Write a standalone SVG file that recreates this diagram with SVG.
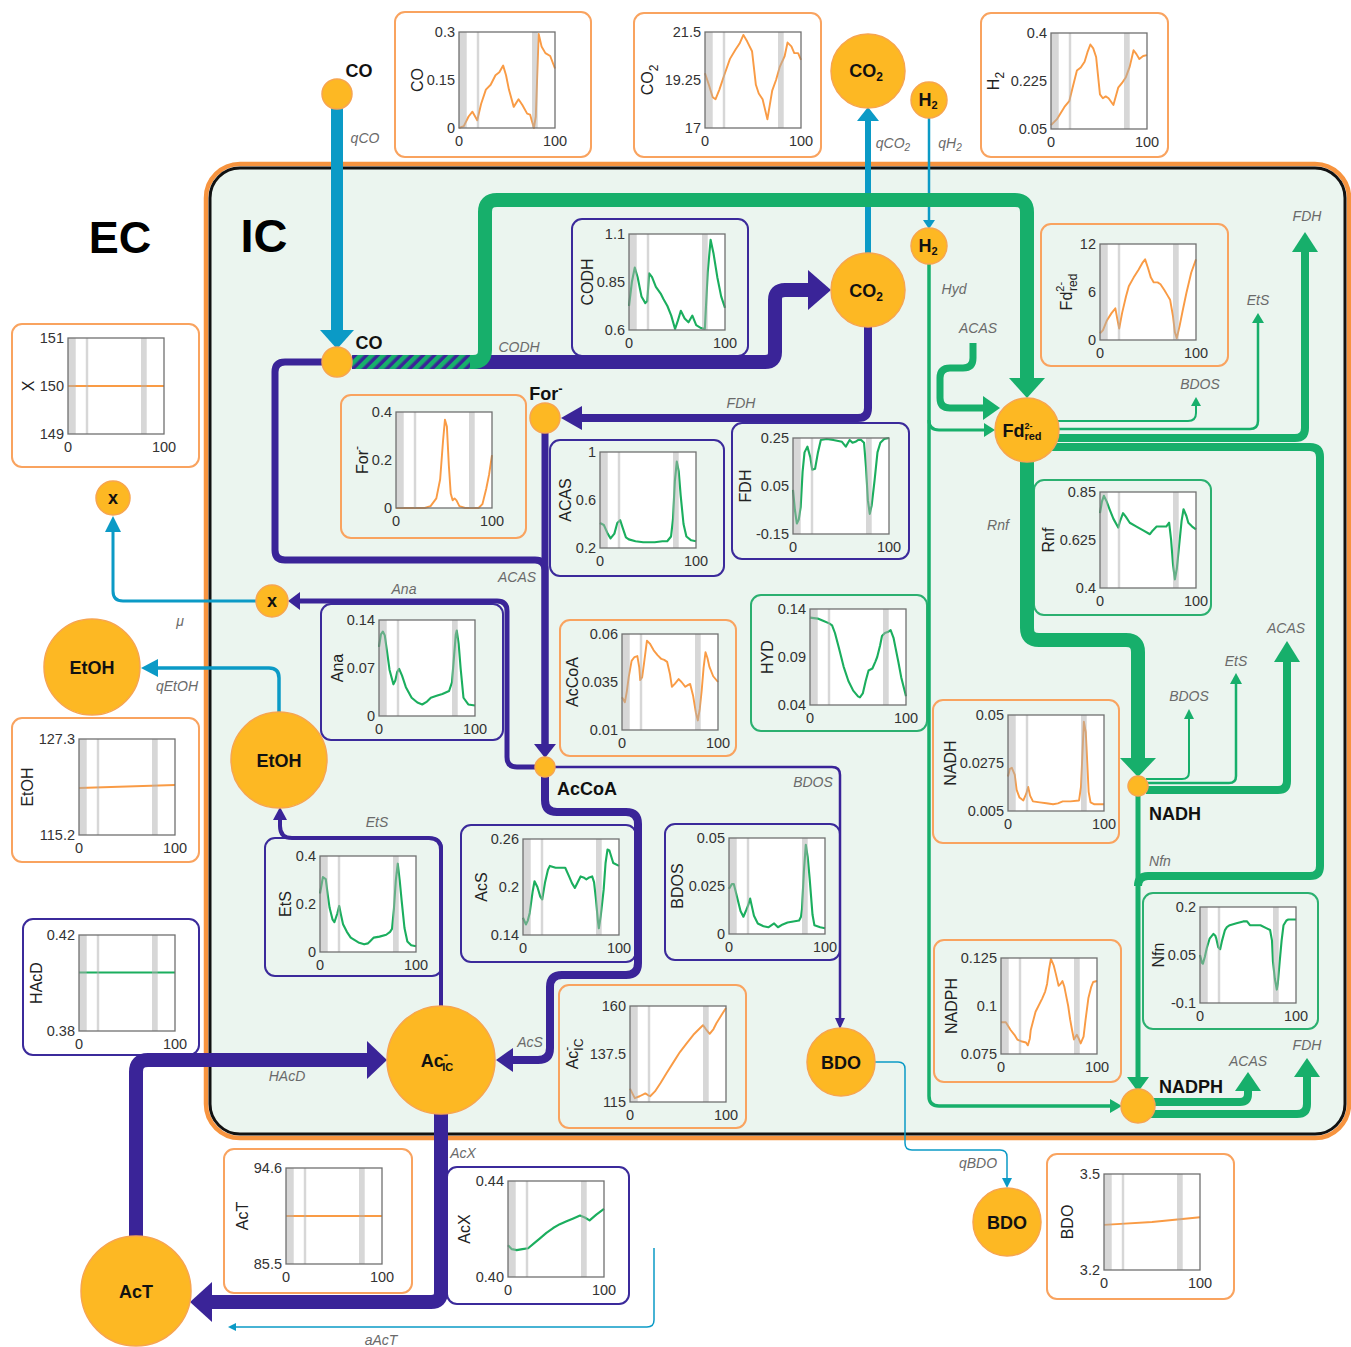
<svg xmlns="http://www.w3.org/2000/svg" xmlns:xlink="http://www.w3.org/1999/xlink" width="1351" height="1347" viewBox="0 0 1351 1347">
<style>
text{font-family:"Liberation Sans",Arial,sans-serif}
.pO{fill:none;stroke:#F9A35F;stroke-width:2}
.pP{fill:none;stroke:#3B2A9B;stroke-width:2}
.pG{fill:none;stroke:#2BB070;stroke-width:2}
.cO{fill:none;stroke:#F99B45;stroke-width:2;stroke-linejoin:round}
.cG{fill:none;stroke:#1BAE5E;stroke-width:2.2;stroke-linejoin:round}
.tk{font-size:14.5px;fill:#333;text-anchor:end}
.tx{font-size:14.5px;fill:#333;text-anchor:middle}
.ti{font-size:16px;fill:#222;text-anchor:middle}
.lb{font-size:14px;font-style:italic;fill:#6a6a6a;text-anchor:middle}
.nd{fill:#FDB823;stroke:#F7A54F;stroke-width:1.5}
.nt{font-size:18px;font-weight:bold;fill:#111;text-anchor:middle}
.bl{fill:none;stroke:#0B9AC6;stroke-linejoin:round}
.pu{fill:none;stroke:#3A2498;stroke-linejoin:round}
.gr{fill:none;stroke:#17AF6B;stroke-linejoin:round}
.ab{fill:#0B9AC6}.ap{fill:#3A2498}.ag{fill:#17AF6B}
</style>
<defs>
<rect id="bg" width="96" height="96" fill="#fff"/>
<g id="fr"><g fill="#b0b0b0" opacity=".5"><rect width="7.7" height="96"/><rect x="17.8" width="2.4" height="96"/><rect x="73" width="5.7" height="96"/></g><rect width="96" height="96" fill="none" stroke="#707070" stroke-width="1.3"/></g>
<pattern id="hatch" width="8" height="8" patternUnits="userSpaceOnUse" patternTransform="rotate(45)"><rect width="8" height="8" fill="#3A2498"/><rect width="4.5" height="8" fill="#17AF6B"/></pattern>
</defs>
<rect width="1351" height="1347" fill="#fff"/>
<g id="ic-box">
<rect x="206" y="164" width="1143" height="974" rx="34" fill="none" stroke="#F7943F" stroke-width="4.5"/>
<rect x="210" y="168" width="1135" height="966" rx="30" fill="#EBF5EF" stroke="#111" stroke-width="3"/>
</g>
<text x="120" y="253" font-size="45" font-weight="bold" text-anchor="middle" fill="#000">EC</text>
<text x="264" y="252" font-size="47" font-weight="bold" text-anchor="middle" fill="#000">IC</text>

<g id="chart-co" transform="translate(459,32)"><rect class="pO" x="-64" y="-20" width="196" height="145" rx="10"/><use href="#bg"/><path class="cO" transform="scale(.96)" d="M0,100 5,98 10,88 14,83 19,92 23,75 28,60 33,55 38,45 42,42 46,35 49,45 52,60 57,78 62,70 66,76 71,85 74,86 78,100 80,88 83,2 86,15 90,22 95,25 100,38"/><use href="#fr"/><text class="tk" x="-4" y="5">0.3</text><text class="tk" x="-4" y="53">0.15</text><text class="tk" x="-4" y="101">0</text><text class="tx" x="0" y="114">0</text><text class="tx" x="96" y="114">100</text><text class="ti" transform="translate(-36,48) rotate(-90)">CO</text></g>

<g id="chart-co2" transform="translate(705,32)"><rect class="pO" x="-71" y="-19" width="187" height="144" rx="10"/><use href="#bg"/><path class="cO" transform="scale(.96)" d="M0,43 4,55 8,68 11,70 15,60 20,45 26,28 32,18 36,12 40,3 44,10 49,20 53,55 56,64 60,70 65,91 70,61 74,50 78,36 83,25 86,11 90,15 93,22 97,22 100,29"/><use href="#fr"/><text class="tk" x="-4" y="5">21.5</text><text class="tk" x="-4" y="53">19.25</text><text class="tk" x="-4" y="101">17</text><text class="tx" x="0" y="114">0</text><text class="tx" x="96" y="114">100</text><text class="ti" transform="translate(-52,48) rotate(-90)">CO<tspan dy="5" font-size="12">2</tspan></text></g>

<g id="chart-h2" transform="translate(1051,33)"><rect class="pO" x="-70" y="-20" width="187" height="144" rx="10"/><use href="#bg"/><path class="cO" transform="scale(.96)" d="M0,96 6,90 14,77 19,71 23,55 27,39 31,36 35,30 38,20 41,12 44,16 47,25 51,64 54,68 57,66 60,68 65,75 70,57 74,52 78,46 82,35 86,18 89,22 92,27 96,24 100,23"/><use href="#fr"/><text class="tk" x="-4" y="5">0.4</text><text class="tk" x="-4" y="53">0.225</text><text class="tk" x="-4" y="101">0.05</text><text class="tx" x="0" y="114">0</text><text class="tx" x="96" y="114">100</text><text class="ti" transform="translate(-52,48) rotate(-90)">H<tspan dy="5" font-size="12">2</tspan></text></g>

<g id="chart-x" transform="translate(68,338)"><rect class="pO" x="-56" y="-14" width="187" height="143" rx="10"/><use href="#bg"/><path class="cO" transform="scale(.96)" d="M0,50 100,50"/><use href="#fr"/><text class="tk" x="-4" y="5">151</text><text class="tk" x="-4" y="53">150</text><text class="tk" x="-4" y="101">149</text><text class="tx" x="0" y="114">0</text><text class="tx" x="96" y="114">100</text><text class="ti" transform="translate(-34,48) rotate(-90)">X</text></g>

<g id="chart-codh" transform="translate(629,234)"><rect class="pP" x="-57" y="-15" width="176" height="137" rx="10"/><use href="#bg"/><path class="cG" transform="scale(.96)" d="M0,75 3,50 6,35 9,45 13,65 17,72 19,70 21,41 24,45 28,55 33,62 36,68 40,75 44,85 48,99 51,90 54,80 58,88 62,92 66,85 70,95 75,98 79,99 82,40 85,6 88,20 92,45 96,65 100,77"/><use href="#fr"/><text class="tk" x="-4" y="5">1.1</text><text class="tk" x="-4" y="53">0.85</text><text class="tk" x="-4" y="101">0.6</text><text class="tx" x="0" y="114">0</text><text class="tx" x="96" y="114">100</text><text class="ti" transform="translate(-36,48) rotate(-90)">CODH</text></g>

<g id="chart-fd" transform="translate(1100,244)"><rect class="pO" x="-59" y="-20" width="187" height="142" rx="10"/><use href="#bg"/><path class="cO" transform="scale(.96)" d="M0,93 3,90 7,80 12,72 16,67 18,78 20,88 23,72 27,55 30,44 35,35 40,27 44,20 47,16 50,25 53,35 56,40 60,40 63,42 67,48 70,53 73,58 76,75 78,92 80,98 83,85 86,70 90,51 95,30 100,16"/><use href="#fr"/><text class="tk" x="-4" y="5">12</text><text class="tk" x="-4" y="53">6</text><text class="tk" x="-4" y="101">0</text><text class="tx" x="0" y="114">0</text><text class="tx" x="96" y="114">100</text><text class="ti" transform="translate(-28,48) rotate(-90)">Fd<tspan dy="-8" font-size="11">2-</tspan><tspan dx="-9" dy="13" font-size="12">red</tspan></text></g>

<g id="chart-for" transform="translate(396,412)"><rect class="pO" x="-55" y="-17" width="185" height="143" rx="10"/><use href="#bg"/><path class="cO" transform="scale(.96)" d="M0,100 30,100 36,98 42,90 46,70 49,30 51,8 53,15 55,55 57,85 59,92 61,90 63,92 66,98 72,100 86,100 90,96 94,80 97,65 100,45"/><use href="#fr"/><text class="tk" x="-4" y="5">0.4</text><text class="tk" x="-4" y="53">0.2</text><text class="tk" x="-4" y="101">0</text><text class="tx" x="0" y="114">0</text><text class="tx" x="96" y="114">100</text><text class="ti" transform="translate(-28,48) rotate(-90)">For<tspan dy="-7" font-size="12">-</tspan></text></g>

<g id="chart-acas" transform="translate(600,452)"><rect class="pP" x="-50" y="-12" width="174" height="136" rx="10"/><use href="#bg"/><path class="cG" transform="scale(.96)" d="M0,74 4,76 8,85 11,90 15,85 18,74 21,71 24,80 27,89 30,91 37,93 45,94 57,94 65,93 70,93 74,88 76,70 78,30 80,10 82,20 84,45 87,75 90,88 95,92 100,93"/><use href="#fr"/><text class="tk" x="-4" y="5">1</text><text class="tk" x="-4" y="53">0.6</text><text class="tk" x="-4" y="101">0.2</text><text class="tx" x="0" y="114">0</text><text class="tx" x="96" y="114">100</text><text class="ti" transform="translate(-29,48) rotate(-90)">ACAS</text></g>

<g id="chart-fdh" transform="translate(793,438)"><rect class="pP" x="-61" y="-15" width="177" height="136" rx="10"/><use href="#bg"/><path class="cG" transform="scale(.96)" d="M0,54 2,75 4,89 6,85 8,72 10,35 12,15 15,9 18,20 20,33 23,32 26,15 29,2 35,1 42,2 51,4 55,9 59,2 62,5 65,4 68,2 71,2 74,5 76,30 78,65 80,79 82,70 85,44 88,15 91,5 95,1 100,0"/><use href="#fr"/><text class="tk" x="-4" y="5">0.25</text><text class="tk" x="-4" y="53">0.05</text><text class="tk" x="-4" y="101">-0.15</text><text class="tx" x="0" y="114">0</text><text class="tx" x="96" y="114">100</text><text class="ti" transform="translate(-42,48) rotate(-90)">FDH</text></g>

<g id="chart-rnf" transform="translate(1100,492)"><rect class="pG" x="-66" y="-12" width="177" height="135" rx="10"/><use href="#bg"/><path class="cG" transform="scale(.96)" d="M0,22 2,10 4,4 7,10 10,18 14,28 19,37 21,30 24,22 27,26 31,32 38,36 45,40 52,44 55,40 59,36 65,36 69,36 72,32 74,49 76,75 78,91 80,80 82,60 85,30 87,18 90,25 92,32 96,36 100,39"/><use href="#fr"/><text class="tk" x="-4" y="5">0.85</text><text class="tk" x="-4" y="53">0.625</text><text class="tk" x="-4" y="101">0.4</text><text class="tx" x="0" y="114">0</text><text class="tx" x="96" y="114">100</text><text class="ti" transform="translate(-46,48) rotate(-90)">Rnf</text></g>

<g id="chart-ana" transform="translate(379,620)"><rect class="pP" x="-58" y="-16" width="182" height="136" rx="10"/><use href="#bg"/><path class="cG" transform="scale(.96)" d="M0,28 2,15 4,12 6,16 8,30 11,52 15,67 17,63 19,54 21,51 24,58 28,70 34,81 40,86 45,88 50,85 54,81 60,79 66,77 73,74 76,65 78,40 80,15 81,11 83,25 85,50 88,81 93,88 100,89"/><use href="#fr"/><text class="tk" x="-4" y="5">0.14</text><text class="tk" x="-4" y="53">0.07</text><text class="tk" x="-4" y="101">0</text><text class="tx" x="0" y="114">0</text><text class="tx" x="96" y="114">100</text><text class="ti" transform="translate(-36,48) rotate(-90)">Ana</text></g>

<g id="chart-accoa" transform="translate(622,634)"><rect class="pO" x="-62" y="-14" width="176" height="136" rx="10"/><use href="#bg"/><path class="cO" transform="scale(.96)" d="M0,66 3,71 5,60 7,45 10,28 13,24 16,23 18,35 19,48 21,45 23,30 26,7 29,10 33,17 37,22 41,26 44,27 47,29 50,42 52,55 55,52 59,47 62,50 66,55 69,53 71,52 74,64 77,82 79,90 81,78 83,59 85,35 87,19 89,25 91,34 95,44 100,50"/><use href="#fr"/><text class="tk" x="-4" y="5">0.06</text><text class="tk" x="-4" y="53">0.035</text><text class="tk" x="-4" y="101">0.01</text><text class="tx" x="0" y="114">0</text><text class="tx" x="96" y="114">100</text><text class="ti" transform="translate(-44,48) rotate(-90)">AcCoA</text></g>

<g id="chart-hyd" transform="translate(810,609)"><rect class="pG" x="-59" y="-14" width="176" height="136" rx="10"/><use href="#bg"/><path class="cG" transform="scale(.96)" d="M0,9 8,10 13,12 20,15 23,17 26,25 30,40 35,60 40,75 45,85 50,91 52,92 55,88 58,75 61,64 65,62 68,55 70,50 73,38 75,28 78,25 81,24 84,22 87,30 89,40 92,55 95,71 100,91"/><use href="#fr"/><text class="tk" x="-4" y="5">0.14</text><text class="tk" x="-4" y="53">0.09</text><text class="tk" x="-4" y="101">0.04</text><text class="tx" x="0" y="114">0</text><text class="tx" x="96" y="114">100</text><text class="ti" transform="translate(-37,48) rotate(-90)">HYD</text></g>

<g id="chart-etoh" transform="translate(79,739)"><rect class="pO" x="-67" y="-21" width="187" height="144" rx="10"/><use href="#bg"/><path class="cO" transform="scale(.96)" d="M0,51 100,48"/><use href="#fr"/><text class="tk" x="-4" y="5">127.3</text><text class="tk" x="-4" y="101">115.2</text><text class="tx" x="0" y="114">0</text><text class="tx" x="96" y="114">100</text><text class="ti" transform="translate(-46,48) rotate(-90)">EtOH</text></g>

<g id="chart-nadh" transform="translate(1008,715)"><rect class="pO" x="-75" y="-15" width="186" height="143" rx="10"/><use href="#bg"/><path class="cO" transform="scale(.96)" d="M0,64 2,56 4,55 7,62 9,78 12,86 16,89 19,82 21,75 23,84 26,90 33,91 40,92 47,93 52,92 57,90 65,90 74,89 76,75 78,30 79,7 81,18 82,38 84,80 86,91 90,93 100,93"/><use href="#fr"/><text class="tk" x="-4" y="5">0.05</text><text class="tk" x="-4" y="53">0.0275</text><text class="tk" x="-4" y="101">0.005</text><text class="tx" x="0" y="114">0</text><text class="tx" x="96" y="114">100</text><text class="ti" transform="translate(-52,48) rotate(-90)">NADH</text></g>

<g id="chart-ets" transform="translate(320,856)"><rect class="pP" x="-55" y="-18" width="177" height="138" rx="10"/><use href="#bg"/><path class="cG" transform="scale(.96)" d="M0,39 2,28 3,22 6,24 8,40 10,54 13,66 15,69 18,60 20,52 22,62 24,71 28,79 32,85 40,90 46,92 50,91 52,89 56,85 62,84 69,82 73,79 75,76 77,55 79,25 81,8 83,25 85,46 88,75 91,89 95,93 100,94"/><use href="#fr"/><text class="tk" x="-4" y="5">0.4</text><text class="tk" x="-4" y="53">0.2</text><text class="tk" x="-4" y="101">0</text><text class="tx" x="0" y="114">0</text><text class="tx" x="96" y="114">100</text><text class="ti" transform="translate(-29,48) rotate(-90)">EtS</text></g>

<g id="chart-acs" transform="translate(523,839)"><rect class="pP" x="-62" y="-14" width="175" height="137" rx="10"/><use href="#bg"/><path class="cG" transform="scale(.96)" d="M0,82 3,89 5,85 7,77 10,55 12,44 15,50 18,60 20,63 23,45 26,32 28,28 34,30 44,30 48,39 51,46 54,51 57,45 60,39 63,40 66,42 69,40 72,39 74,45 76,63 78,85 79,93 81,80 84,53 86,25 88,11 90,12 94,25 100,28"/><use href="#fr"/><text class="tk" x="-4" y="5">0.26</text><text class="tk" x="-4" y="53">0.2</text><text class="tk" x="-4" y="101">0.14</text><text class="tx" x="0" y="114">0</text><text class="tx" x="96" y="114">100</text><text class="ti" transform="translate(-36,48) rotate(-90)">AcS</text></g>

<g id="chart-bdos" transform="translate(729,838)"><rect class="pP" x="-64" y="-14" width="175" height="136" rx="10"/><use href="#bg"/><path class="cG" transform="scale(.96)" d="M0,53 3,48 5,48 8,60 12,76 15,82 18,75 20,70 22,63 24,72 26,81 30,89 36,92 41,93 44,91 47,89 51,93 56,90 61,88 67,87 73,86 75,82 76,74 78,35 80,7 82,20 84,42 87,80 89,91 95,93 100,94"/><use href="#fr"/><text class="tk" x="-4" y="5">0.05</text><text class="tk" x="-4" y="53">0.025</text><text class="tk" x="-4" y="101">0</text><text class="tx" x="0" y="114">0</text><text class="tx" x="96" y="114">100</text><text class="ti" transform="translate(-46,48) rotate(-90)">BDOS</text></g>

<g id="chart-hacd" transform="translate(79,935)"><rect class="pP" x="-56" y="-16" width="176" height="136" rx="10"/><use href="#bg"/><path class="cG" transform="scale(.96)" d="M0,39 100,39"/><use href="#fr"/><text class="tk" x="-4" y="5">0.42</text><text class="tk" x="-4" y="101">0.38</text><text class="tx" x="0" y="114">0</text><text class="tx" x="96" y="114">100</text><text class="ti" transform="translate(-37,48) rotate(-90)">HAcD</text></g>

<g id="chart-nfn" transform="translate(1200,907)"><rect class="pG" x="-57" y="-14" width="175" height="136" rx="10"/><use href="#bg"/><path class="cG" transform="scale(.96)" d="M0,50 2,58 3,59 5,52 7,43 10,33 14,28 16,30 17,33 19,42 21,44 23,35 26,24 28,21 31,19 38,17 45,15 49,15 52,19 58,19 63,19 69,22 73,24 75,35 76,57 78,75 80,86 81,80 83,57 85,35 87,19 90,14 92,13 100,13"/><use href="#fr"/><text class="tk" x="-4" y="5">0.2</text><text class="tk" x="-4" y="53">0.05</text><text class="tk" x="-4" y="101">-0.1</text><text class="tx" x="0" y="114">0</text><text class="tx" x="96" y="114">100</text><text class="ti" transform="translate(-36,48) rotate(-90)">Nfn</text></g>

<g id="chart-nadph" transform="translate(1001,958)"><rect class="pO" x="-67" y="-18" width="187" height="142" rx="10"/><use href="#bg"/><path class="cO" transform="scale(.96)" d="M0,67 5,67 10,75 14,80 17,85 22,87 26,88 28,91 30,84 31,75 36,56 43,42 46,35 48,27 50,12 52,1 55,8 57,16 60,29 62,27 64,24 66,30 67,35 70,50 72,64 74,75 76,85 79,80 81,84 83,89 86,82 88,65 91,42 94,30 96,25 100,24"/><use href="#fr"/><text class="tk" x="-4" y="5">0.125</text><text class="tk" x="-4" y="53">0.1</text><text class="tk" x="-4" y="101">0.075</text><text class="tx" x="0" y="114">0</text><text class="tx" x="96" y="114">100</text><text class="ti" transform="translate(-44,48) rotate(-90)">NADPH</text></g>

<g id="chart-acic" transform="translate(630,1006)"><rect class="pO" x="-71" y="-21" width="187" height="143" rx="10"/><use href="#bg"/><path class="cO" transform="scale(.96)" d="M0,86 3,92 5,96 10,94 16,91 19,93 21,94 26,89 32,80 38,70 45,59 52,48 59,39 66,30 72,24 76,20 79,24 83,29 87,24 90,18 95,10 100,2"/><use href="#fr"/><text class="tk" x="-4" y="5">160</text><text class="tk" x="-4" y="53">137.5</text><text class="tk" x="-4" y="101">115</text><text class="tx" x="0" y="114">0</text><text class="tx" x="96" y="114">100</text><text class="ti" transform="translate(-52,48) rotate(-90)">Ac<tspan dy="-7" font-size="12">-</tspan><tspan dx="-4" dy="12" font-size="12">IC</tspan></text></g>

<g id="chart-act" transform="translate(286,1168)"><rect class="pO" x="-62" y="-19" width="188" height="144" rx="10"/><use href="#bg"/><path class="cO" transform="scale(.96)" d="M0,50 100,50"/><use href="#fr"/><text class="tk" x="-4" y="5">94.6</text><text class="tk" x="-4" y="101">85.5</text><text class="tx" x="0" y="114">0</text><text class="tx" x="96" y="114">100</text><text class="ti" transform="translate(-38,48) rotate(-90)">AcT</text></g>

<g id="chart-acx" transform="translate(508,1181)"><rect class="pP" x="-61" y="-14" width="182" height="137" rx="10"/><use href="#bg"/><path class="cG" transform="scale(.96)" d="M0,67 4,71 9,72 15,71 21,70 27,65 33,60 40,54 47,49 54,45 61,42 68,39 75,36 80,38 85,41 92,35 100,29"/><use href="#fr"/><text class="tk" x="-4" y="5">0.44</text><text class="tk" x="-4" y="101">0.40</text><text class="tx" x="0" y="114">0</text><text class="tx" x="96" y="114">100</text><text class="ti" transform="translate(-38,48) rotate(-90)">AcX</text></g>

<g id="chart-bdo" transform="translate(1104,1174)"><rect class="pO" x="-57" y="-20" width="187" height="145" rx="10"/><use href="#bg"/><path class="cO" transform="scale(.96)" d="M0,53 50,50 100,45"/><use href="#fr"/><text class="tk" x="-4" y="5">3.5</text><text class="tk" x="-4" y="101">3.2</text><text class="tx" x="0" y="114">0</text><text class="tx" x="96" y="114">100</text><text class="ti" transform="translate(-31,48) rotate(-90)">BDO</text></g>

<g id="connectors">
<path class="bl" stroke-width="12" d="M337 108 V332"/><polygon class="ab" points="320,330 354,330 337,349"/>
<path class="bl" stroke-width="6" d="M868 254 V118"/><polygon class="ab" points="857,121 879,121 868,107"/>
<path class="bl" stroke-width="2.5" d="M929 118 V222"/><polygon class="ab" points="923,220 935,220 929,229"/>
<path class="bl" stroke-width="3" d="M256 601 H123 Q113 601 113 591 V530"/><polygon class="ab" points="105,532 121,532 113,516"/>
<path class="bl" stroke-width="3.5" d="M279 712 V678 Q279 668 269 668 H156"/><polygon class="ab" points="158,659 158,677 141,668"/>
<path class="bl" stroke-width="1.5" d="M875 1062 H898 Q905 1062 905 1069 V1143 Q905 1150 912 1150 H1000 Q1007 1150 1007 1157 V1180"/><polygon class="ab" points="1002,1178 1012,1178 1007,1188"/>
<path class="bl" stroke-width="1.5" d="M654 1248 V1320 Q654 1327 647 1327 H235"/><polygon class="ab" points="236,1323 236,1331 228,1327"/>
<path class="pu" stroke-width="14" d="M352 362 H765 Q775 362 775 352 V300 Q775 290 785 290 H810"/><polygon class="ap" points="808,270 808,310 831,290"/>
<rect x="352" y="355" width="128" height="14" fill="url(#hatch)"/>
<path class="pu" stroke-width="7" d="M322 362 H285 Q275 362 275 372 V550 Q275 560 285 560 H535 Q545 560 545 570 V746"/>
<path class="pu" stroke-width="7" d="M545 433 V746"/><polygon class="ap" points="534,744 556,744 545,758"/>
<path class="pu" stroke-width="8" d="M868 327 V408 Q868 418 858 418 H580"/><polygon class="ap" points="582,406 582,430 561,418"/>
<path class="pu" stroke-width="5" d="M535 767 H517 Q507 767 507 757 V611 Q507 601 497 601 H298"/><polygon class="ap" points="300,592 300,610 288,601"/>
<path class="pu" stroke-width="8" d="M545 777 V800 Q545 812 557 812 H626 Q638 812 638 824 V963 Q638 975 626 975 H562 Q550 975 550 987 V1048 Q550 1060 538 1060 H510"/><polygon class="ap" points="513,1048 513,1072 496,1060"/>
<path class="pu" stroke-width="2.5" d="M555 767 H832 Q840 767 840 775 V1020"/><polygon class="ap" points="835,1018 845,1018 840,1029"/>
<path class="pu" stroke-width="4" d="M441 1006 V850 Q441 838 429 838 H292 Q280 838 280 826 V818"/><polygon class="ap" points="273,820 287,820 280,807"/>
<path class="pu" stroke-width="14" d="M136 1236 V1072 Q136 1060 148 1060 H370"/><polygon class="ap" points="367,1041 367,1079 387,1060"/>
<path class="pu" stroke-width="14" d="M441 1114 V1292 Q441 1302 431 1302 H210"/><polygon class="ap" points="212,1282 212,1322 190,1302"/>
<path class="gr" stroke-width="14" d="M470 362 H473 Q485 362 485 350 V212 Q485 200 497 200 H1015 Q1027 200 1027 212 V380"/><polygon class="ag" points="1009,378 1045,378 1027,398"/>
<path class="gr" stroke-width="3.5" d="M929 264 V1096 Q929 1106 939 1106 H1110"/><polygon class="ag" points="1110,1099 1110,1113 1122,1106"/>
<path class="gr" stroke-width="3" d="M929 420 Q929 430 939 430 H985"/><polygon class="ag" points="984,423 984,437 995,430"/>
<path class="gr" stroke-width="7" d="M973 343 V358 Q973 368 963 368 H950 Q940 368 940 378 V398 Q940 408 950 408 H985"/><polygon class="ag" points="983,396 983,420 1000,408"/>
<path class="gr" stroke-width="2" d="M1058 421 H1188 Q1196 421 1196 413 V405"/><polygon class="ag" points="1191,406 1201,406 1196,397"/>
<path class="gr" stroke-width="2.5" d="M1058 429 H1250 Q1258 429 1258 421 V322"/><polygon class="ag" points="1252,323 1264,323 1258,313"/>
<path class="gr" stroke-width="8" d="M1056 438 H1295 Q1305 438 1305 428 V250"/><polygon class="ag" points="1292,252 1318,252 1305,232"/>
<path class="gr" stroke-width="8" d="M1050 447 H1310 Q1320 447 1320 457 V866 Q1320 876 1310 876 H1148 Q1138 876 1138 886"/>
<path class="gr" stroke-width="14" d="M1027 462 V628 Q1027 640 1039 640 H1126 Q1138 640 1138 652 V760"/><polygon class="ag" points="1120,758 1156,758 1138,777"/>
<path class="gr" stroke-width="2" d="M1146 779 H1182 Q1189 779 1189 772 V718"/><polygon class="ag" points="1184,719 1194,719 1189,709"/>
<path class="gr" stroke-width="2.5" d="M1146 783 H1229 Q1236 783 1236 776 V683"/><polygon class="ag" points="1230,684 1242,684 1236,673"/>
<path class="gr" stroke-width="8" d="M1146 790 H1278 Q1287 790 1287 781 V660"/><polygon class="ag" points="1274,662 1300,662 1287,641"/>
<path class="gr" stroke-width="5" d="M1138 796 V1080"/><polygon class="ag" points="1127,1077 1149,1077 1138,1092"/>
<path class="gr" stroke-width="8" d="M1150 1102 H1240 Q1248 1102 1248 1094 V1088"/><polygon class="ag" points="1235,1091 1261,1091 1248,1072"/>
<path class="gr" stroke-width="8" d="M1150 1114 H1297 Q1307 1114 1307 1104 V1075"/><polygon class="ag" points="1294,1077 1320,1077 1307,1058"/>
<text class="lb" x="365" y="143">qCO</text>
<text class="lb" x="519" y="352">CODH</text>
<text class="lb" x="741" y="408">FDH</text>
<text class="lb" x="517" y="582">ACAS</text>
<text class="lb" x="404" y="594">Ana</text>
<text class="lb" x="180" y="626">μ</text>
<text class="lb" x="177" y="691">qEtOH</text>
<text class="lb" x="377" y="827">EtS</text>
<text class="lb" x="813" y="787">BDOS</text>
<text class="lb" x="530" y="1047">AcS</text>
<text class="lb" x="287" y="1081">HAcD</text>
<text class="lb" x="463" y="1158">AcX</text>
<text class="lb" x="381" y="1345">aAcT</text>
<text class="lb" x="978" y="1168">qBDO</text>
<text class="lb" x="893" y="148">qCO<tspan dy="3" font-size="10">2</tspan></text>
<text class="lb" x="950" y="148">qH<tspan dy="3" font-size="10">2</tspan></text>
<text class="lb" x="954" y="294">Hyd</text>
<text class="lb" x="978" y="333">ACAS</text>
<text class="lb" x="998" y="530">Rnf</text>
<text class="lb" x="1307" y="221">FDH</text>
<text class="lb" x="1258" y="305">EtS</text>
<text class="lb" x="1200" y="389">BDOS</text>
<text class="lb" x="1286" y="633">ACAS</text>
<text class="lb" x="1236" y="666">EtS</text>
<text class="lb" x="1189" y="701">BDOS</text>
<text class="lb" x="1160" y="866">Nfn</text>
<text class="lb" x="1248" y="1066">ACAS</text>
<text class="lb" x="1307" y="1050">FDH</text>
</g>

<g id="node-co-ext"><circle class="nd" cx="337" cy="94" r="15"/><text class="nt" x="359" y="77">CO</text></g>
<g id="node-co2-ext"><circle class="nd" cx="868" cy="71" r="37"/><text class="nt" x="866" y="77">CO<tspan dy="4" font-size="12">2</tspan></text></g>
<g id="node-h2-ext"><circle class="nd" cx="929" cy="100" r="18"/><text class="nt" x="928" y="106" font-size="16">H<tspan dy="3" font-size="11">2</tspan></text></g>
<g id="node-h2-int"><circle class="nd" cx="929" cy="246" r="18"/><text class="nt" x="928" y="252" font-size="16">H<tspan dy="3" font-size="11">2</tspan></text></g>
<g id="node-co2-int"><circle class="nd" cx="868" cy="290" r="37"/><text class="nt" x="866" y="297">CO<tspan dy="4" font-size="12">2</tspan></text></g>
<g id="node-co-int"><circle class="nd" cx="337" cy="362" r="15"/><text class="nt" x="369" y="349">CO</text></g>
<g id="node-for"><circle class="nd" cx="545" cy="418" r="15"/><text class="nt" x="546" y="400">For<tspan dy="-7" font-size="13">-</tspan></text></g>
<g id="node-fd"><circle class="nd" cx="1027" cy="430" r="32"/><text class="nt" x="1022" y="437">Fd<tspan dy="-8" font-size="9">2-</tspan><tspan dx="-8" dy="11" font-size="11">red</tspan></text></g>
<g id="node-x-int"><circle class="nd" cx="272" cy="601" r="16"/><text class="nt" x="272" y="607" font-size="16">x</text></g>
<g id="node-x-ext"><circle class="nd" cx="113" cy="498" r="17"/><text class="nt" x="113" y="504" font-size="16">x</text></g>
<g id="node-etoh-ext"><circle class="nd" cx="92" cy="667" r="48"/><text class="nt" x="92" y="674">EtOH</text></g>
<g id="node-etoh-int"><circle class="nd" cx="279" cy="760" r="48"/><text class="nt" x="279" y="767">EtOH</text></g>
<g id="node-accoa"><circle class="nd" cx="545" cy="767" r="10"/><text class="nt" x="587" y="795">AcCoA</text></g>
<g id="node-nadh"><circle class="nd" cx="1138" cy="786" r="10"/><text class="nt" x="1175" y="820">NADH</text></g>
<g id="node-nadph"><circle class="nd" cx="1138" cy="1106" r="17"/><text class="nt" x="1191" y="1093">NADPH</text></g>
<g id="node-acic"><circle class="nd" cx="441" cy="1060" r="54"/><text class="nt" x="437" y="1067">Ac<tspan dy="-8" font-size="13">-</tspan><tspan dx="-6" dy="12" font-size="11">IC</tspan></text></g>
<g id="node-bdo-int"><circle class="nd" cx="841" cy="1062" r="34"/><text class="nt" x="841" y="1069">BDO</text></g>
<g id="node-bdo-ext"><circle class="nd" cx="1007" cy="1222" r="34"/><text class="nt" x="1007" y="1229">BDO</text></g>
<g id="node-act"><circle class="nd" cx="136" cy="1291" r="55"/><text class="nt" x="136" y="1298">AcT</text></g>
</svg>
